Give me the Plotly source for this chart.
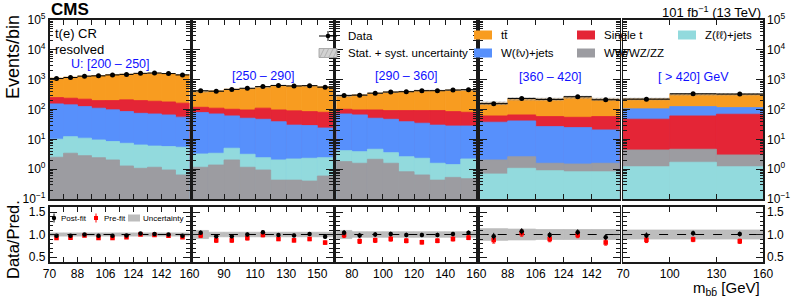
import numpy as np
import plotly.graph_objects as go

W, H = 793, 300
FONT = "Liberation Sans, Arial, Helvetica, sans-serif"

# ---------------- data ----------------
bin_edges_p1 = [70, 79, 88, 97, 106, 115, 124, 133, 142, 151, 160]
bin_edges_p2 = [70, 80, 90, 100, 110, 120, 130, 140, 150, 160]
bin_edges_p3 = [70, 80, 90, 100, 110, 120, 130, 140, 150, 160]
bin_edges_p4 = [70, 88, 106, 124, 142, 160]
bin_edges_p5 = [70, 100, 130, 160]

category_labels = ["U: [200 – 250]", "[250 – 290]", "[290 – 360]", "[360 – 420]", "[ > 420] GeV"]

x_tick_labels_p1 = [70, 88, 106, 124, 142, 160]
x_tick_labels_p2 = [90, 110, 130, 150]
x_tick_labels_p3 = [80, 100, 120, 140, 160]
x_tick_labels_p4 = [88, 106, 124, 142]
x_tick_labels_p5 = [70, 100, 130, 160]

# background yields (events/bin)
ttbar_p1 = [871, 974, 1088, 1174, 1284, 1320, 1404, 1462, 1423, 1320]
singlet_p1 = [97, 96, 97, 88, 102, 125, 124, 119, 114, 108]
wjets_p1 = [144, 131, 114, 101, 89, 78, 68, 65, 60, 50]
zjets_p1 = [7.6, 8.9, 8.1, 7.1, 6.4, 6.1, 5.4, 4.8, 4.8, 4.8]
vv_p1 = [2.51, 3.42, 2.84, 2.43, 2.04, 1.28, 1.07, 1.16, 0.94, 0.64]

ttbar_p2 = [292, 310, 378, 406, 449, 537, 529, 534, 505]
singlet_p2 = [40, 40, 41, 46, 64, 58, 60, 56, 57]
wjets_p2 = [75.5, 67.6, 56, 47.8, 44.6, 37, 27.8, 26.7, 21.6]
zjets_p2 = [2.08, 2.04, 3.0, 2.0, 1.49, 1.61, 1.77, 1.92, 1.84]
vv_p2 = [1.16, 1.38, 2.04, 1.16, 0.94, 0.43, 0.43, 0.40, 0.59]

ttbar_p3 = [184, 212, 255, 289, 307, 339, 339, 360, 364]
singlet_p3 = [31, 31, 46, 45, 53, 57, 62, 57, 53]
wjets_p3 = [66.8, 62.1, 46.3, 43.4, 36.4, 32.4, 28.4, 26.6, 25.8]
zjets_p3 = [2.39, 2.29, 2.51, 2.0, 1.8, 1.68, 1.15, 0.89, 1.72]
vv_p3 = [1.79, 1.58, 2.15, 1.58, 0.82, 0.64, 0.43, 0.53, 0.48]

ttbar_p4 = [102, 161, 164, 204, 164]
singlet_p4 = [23.5, 24.6, 31.3, 30.3, 37.3]
wjets_p4 = [35.5, 38.8, 25.1, 23.2, 19.1]
zjets_p4 = [0.69, 1.07, 0.89, 0.82, 0.82]
vv_p4 = [1.35, 1.55, 0.69, 0.67, 0.76]

ttbar_p5 = [122, 201, 210]
singlet_p5 = [42.9, 56.3, 66.5]
wjets_p5 = [57.7, 64, 46.5]
zjets_p5 = [1.21, 1.71, 1.21]
vv_p5 = [3.2, 2.95, 1.79]

# observed data
data_p1 = [1090, 1180, 1310, 1340, 1440, 1500, 1630, 1670, 1600, 1440]
data_p2 = [425, 410, 470, 515, 585, 640, 615, 630, 560]
data_p3 = [297, 303, 352, 385, 395, 427, 427, 449, 463]
data_p4 = [157, 235, 218, 268, 212]
data_p5 = [222, 336, 329]

# data / prediction ratios
postfit_p1 = [0.97, 0.97, 1.00, 0.97, 0.97, 0.98, 1.02, 1.01, 1.00, 0.97]
prefit_p1 = [0.92, 0.93, 0.98, 0.92, 0.92, 0.94, 1.00, 0.99, 0.97, 0.94]
postfit_p2 = [1.04, 0.96, 0.96, 1.00, 1.05, 0.99, 0.98, 1.01, 0.95]
prefit_p2 = [0.98, 0.87, 0.87, 0.92, 0.99, 0.90, 0.87, 0.90, 0.82]
postfit_p3 = [1.04, 0.98, 1.00, 1.01, 0.99, 0.99, 0.99, 1.01, 1.04]
prefit_p3 = [0.99, 0.85, 0.87, 0.90, 0.86, 0.83, 0.86, 0.90, 0.93]
postfit_p4 = [0.96, 1.07, 0.99, 1.05, 0.94]
prefit_p4 = [0.88, 1.03, 0.90, 0.99, 0.82]
postfit_p5 = [0.98, 1.03, 1.01]
prefit_p5 = [0.88, 0.89, 0.85]

# relative stat.+syst. uncertainty
unc_p1 = [0.035, 0.035, 0.035, 0.035, 0.035, 0.035, 0.035, 0.035, 0.035, 0.035]
unc_p2 = [0.09, 0.05, 0.05, 0.05, 0.05, 0.05, 0.05, 0.05, 0.05]
unc_p3 = [0.09, 0.06, 0.06, 0.06, 0.06, 0.06, 0.06, 0.06, 0.06]
unc_p4 = [0.13, 0.12, 0.11, 0.11, 0.11]
unc_p5 = [0.10, 0.10, 0.10]

# ---------------- styling ----------------
procs = ["ttbar", "singlet", "wjets", "zjets", "vv"]
colors = {"ttbar": "#f89c20", "singlet": "#e42536", "wjets": "#5790fc",
          "zjets": "#92dadd", "vv": "#9c9ca1"}

panels = [
    dict(edges=bin_edges_p1, ttbar=ttbar_p1, singlet=singlet_p1, wjets=wjets_p1, zjets=zjets_p1, vv=vv_p1,
         data=data_p1, post=postfit_p1, pre=prefit_p1, unc=unc_p1, xlab=x_tick_labels_p1),
    dict(edges=bin_edges_p2, ttbar=ttbar_p2, singlet=singlet_p2, wjets=wjets_p2, zjets=zjets_p2, vv=vv_p2,
         data=data_p2, post=postfit_p2, pre=prefit_p2, unc=unc_p2, xlab=x_tick_labels_p2),
    dict(edges=bin_edges_p3, ttbar=ttbar_p3, singlet=singlet_p3, wjets=wjets_p3, zjets=zjets_p3, vv=vv_p3,
         data=data_p3, post=postfit_p3, pre=prefit_p3, unc=unc_p3, xlab=x_tick_labels_p3),
    dict(edges=bin_edges_p4, ttbar=ttbar_p4, singlet=singlet_p4, wjets=wjets_p4, zjets=zjets_p4, vv=vv_p4,
         data=data_p4, post=postfit_p4, pre=prefit_p4, unc=unc_p4, xlab=x_tick_labels_p4),
    dict(edges=bin_edges_p5, ttbar=ttbar_p5, singlet=singlet_p5, wjets=wjets_p5, zjets=zjets_p5, vv=vv_p5,
         data=data_p5, post=postfit_p5, pre=prefit_p5, unc=unc_p5, xlab=x_tick_labels_p5),
]

def X(px):
    return px / W

def Y(py):
    return 1 - py / H

x_pix = [(49.5, 189.5), (192.9, 332.9), (336.3, 476.3), (479.7, 619.7), (623.1, 763.1)]
top_dom = [Y(199), Y(20)]
rat_dom = [Y(262), Y(207)]

def ax(n, kind):
    return (kind if n == 1 else f"{kind}{n}")

fig = go.Figure()
layout = dict(width=W, height=H, margin=dict(l=0, r=0, t=0, b=0, autoexpand=False),
              paper_bgcolor="white", plot_bgcolor="white", barmode="overlay",
              showlegend=False, font=dict(family=FONT, color="black", size=12))

log_vals = [0.1, 1, 10, 100, 1e3, 1e4, 1e5]
log_text = ["10<sup>−1</sup>", "10<sup>0</sup>", "10<sup>1</sup>", "10<sup>2</sup>",
            "10<sup>3</sup>", "10<sup>4</sup>", "10<sup>5</sup>"]
log_minor = [k * 10.0 ** e for e in range(-1, 5) for k in range(2, 10)]

frame = dict(showline=True, linecolor="#1a1a1a", linewidth=1.6, mirror="ticks", automargin=False,
             ticks="inside", tickcolor="#1a1a1a", tickwidth=1, showgrid=False, zeroline=False)

for i, p in enumerate(panels):
    nt, nr = i + 1, i + 6
    e = np.array(p["edges"], dtype=float)
    c = 0.5 * (e[1:] + e[:-1])
    w = e[1:] - e[:-1]
    order = sorted(procs, key=lambda q: float(np.sum(p[q])))
    cum = np.cumsum([np.array(p[q], dtype=float) for q in order], axis=0)
    for k in reversed(range(len(order))):
        col = colors[order[k]]
        fig.add_trace(go.Bar(x=c, y=cum[k], width=w, marker=dict(color=col, line=dict(color=col, width=0.8)),
                             xaxis=ax(nt, "x"), yaxis=ax(nt, "y")))
    total = cum[-1]
    u = np.array(p["unc"])
    fig.add_trace(go.Bar(x=c, y=2 * total * u, base=total * (1 - u), width=w,
                         marker=dict(color="rgba(170,170,170,0.45)", line_width=0,
                                     pattern=dict(shape="/", fgcolor="#666", size=3, solidity=0.3)),
                         xaxis=ax(nt, "x"), yaxis=ax(nt, "y")))
    d = np.array(p["data"], dtype=float)
    fig.add_trace(go.Scatter(x=c, y=d, mode="markers",
                             marker=dict(color="black", size=5, symbol="circle"),
                             error_x=dict(type="data", array=w / 2, width=0, thickness=1, color="black"),
                             error_y=dict(type="data", array=np.sqrt(d), width=0, thickness=1, color="black"),
                             xaxis=ax(nt, "x"), yaxis=ax(nt, "y")))

    # ratio panel
    fig.add_trace(go.Bar(x=c, y=2 * u, base=1 - u, width=w,
                         marker=dict(color="#bdbdbd", line=dict(color="#bdbdbd", width=0.8)),
                         xaxis=ax(nr, "x"), yaxis=ax(nr, "y")))
    fig.add_trace(go.Scatter(x=[e[0], e[-1]], y=[1, 1], mode="lines",
                             line=dict(color="black", width=1, dash="dash"),
                             xaxis=ax(nr, "x"), yaxis=ax(nr, "y")))
    post = np.array(p["post"])
    pre = np.array(p["pre"])
    fig.add_trace(go.Scatter(x=c, y=pre, mode="markers",
                             marker=dict(color="#ff0000", size=4.5, symbol="square"),
                             error_y=dict(type="data", array=pre / np.sqrt(d), width=1.5, thickness=1, color="#ff0000"),
                             xaxis=ax(nr, "x"), yaxis=ax(nr, "y")))
    fig.add_trace(go.Scatter(x=c, y=post, mode="markers",
                             marker=dict(color="black", size=4.5, symbol="circle"),
                             error_y=dict(type="data", array=post / np.sqrt(d), width=0, thickness=1, color="black"),
                             xaxis=ax(nr, "x"), yaxis=ax(nr, "y")))

    xdom = [X(x_pix[i][0]), X(x_pix[i][1])]
    labelled = [v for v in e if int(v) in p["xlab"]]
    unlabelled = [v for v in e if int(v) not in p["xlab"]]
    layout[ax(nt, "xaxis")] = dict(domain=xdom, anchor=ax(nt, "y"), range=[70, 160],
                                   tickmode="array", tickvals=list(e), showticklabels=False,
                                   ticklen=5, **frame)
    layout[ax(nr, "xaxis")] = dict(domain=xdom, anchor=ax(nr, "y"), range=[70, 160],
                                   tickmode="array", tickvals=labelled,
                                   ticktext=[str(int(v)) for v in labelled],
                                   showticklabels=True, ticklen=5,
                                   minor=dict(tickmode="array", tickvals=unlabelled, ticks="inside",
                                              ticklen=5, tickcolor="#1a1a1a"),
                                   tickfont=dict(size=12, family=FONT), **frame)
    ylog = dict(domain=top_dom, anchor=ax(nt, "x"), type="log", range=[-1, 5],
                tickmode="array", tickvals=log_vals, ticktext=log_text, ticklen=7,
                minor=dict(tickmode="array", tickvals=log_minor, ticks="inside", ticklen=3.5,
                           tickcolor="#1a1a1a"),
                tickfont=dict(size=12, family=FONT), **frame)
    yrat = dict(domain=rat_dom, anchor=ax(nr, "x"), range=[0.389, 1.611],
                tickmode="array", tickvals=[0.5, 1.0, 1.5], ticktext=["0.5", "1.0", "1.5"],
                ticklen=7,
                minor=dict(tickmode="array", tickvals=[0.4, 0.6, 0.7, 0.8, 0.9, 1.1, 1.2, 1.3, 1.4, 1.6],
                           ticks="inside", ticklen=3.5, tickcolor="#1a1a1a"),
                tickfont=dict(size=12, family=FONT), **frame)
    if i == 0:
        ylog["showticklabels"] = True
        yrat["showticklabels"] = True
    elif i == 4:
        ylog["side"] = "right"
        yrat["side"] = "right"
        ylog["showticklabels"] = True
        yrat["showticklabels"] = True
    else:
        ylog["showticklabels"] = False
        yrat["showticklabels"] = False
    layout[ax(nt, "yaxis")] = ylog
    layout[ax(nr, "yaxis")] = yrat

fig.update_layout(**layout)

# ---------------- text ----------------
ann = []
def text(x, y, s, size=12, xanchor="left", yanchor="middle", color="black", angle=0, bold=False):
    ann.append(dict(x=X(x), y=Y(y), xref="paper", yref="paper", text=(f"<b>{s}</b>" if bold else s),
                    showarrow=False, xanchor=xanchor, yanchor=yanchor, textangle=angle,
                    font=dict(size=size, family=FONT, color=color)))

text(49, 10, "CMS", size=17, bold=True)
text(763, 12, "101 fb<sup>−1</sup> (13 TeV)", size=13, xanchor="right")
text(53, 34, "t(e) CR", size=13)
text(53, 49.5, "resolved", size=13)
text(13, 57, "Events/bin", size=18, xanchor="center", angle=-90)
text(13, 240, "Data/Pred.", size=16.5, xanchor="center", angle=-90)
text(762, 288.5, "m<sub>bb̄</sub> [GeV]", size=15, xanchor="right")

label_y = [64, 76, 76, 77, 77]
label_x = [110, 263, 406, 550, 693]
for lx, ly, s in zip(label_x, label_y, category_labels):
    text(lx, ly, s, size=12.5, xanchor="center", color="#1010ff")

# top legend
shapes = []
def rect(x0, y0, x1, y1, fill, line="rgba(0,0,0,0)", lw=0):
    shapes.append(dict(type="rect", xref="paper", yref="paper", x0=X(x0), x1=X(x1), y0=Y(y1), y1=Y(y0),
                       fillcolor=fill, line=dict(color=line, width=lw)))

def seg(x0, y0, x1, y1, color="black", lw=1):
    shapes.append(dict(type="line", xref="paper", yref="paper", x0=X(x0), x1=X(x1), y0=Y(y0), y1=Y(y1),
                       line=dict(color=color, width=lw)))

def dot(xc, yc, r, color):
    shapes.append(dict(type="circle", xref="paper", yref="paper", x0=X(xc - r), x1=X(xc + r),
                       y0=Y(yc + r), y1=Y(yc - r), fillcolor=color, line=dict(color=color, width=0)))

# Data
seg(319, 36, 337, 36)
seg(328, 31, 328, 41)
dot(328, 36, 2.3, "black")
text(346, 36, "Data", size=11.5)
# Stat + syst
rect(319, 48.5, 337, 57.5, "#d2d2d2", "#9a9a9a", 0.8)
for k in range(4):
    seg(320 + 4.5 * k, 57, 324 + 4.5 * k, 49, color="#9a9a9a", lw=0.6)
text(346, 53, "Stat. + syst. uncertainty", size=11.5)

leg = [(474, 35, "ttbar", "tt̄"), (577, 35, "singlet", "Single t"), (678, 35, "zjets", "Z(ℓℓ)+jets"),
       (474, 53, "wjets", "W(ℓν)+jets"), (577, 53, "vv", "WW/WZ/ZZ")]
for lx, ly, key, lab in leg:
    rect(lx, ly - 4.5, lx + 18, ly + 4.5, colors[key])
    text(lx + 25, ly, lab, size=11.5)

# ratio legend
seg(54, 213.5, 54, 222.5)
dot(54, 218, 2.2, "black")
text(59, 218, "Post-fit", size=8)
seg(96, 213.5, 96, 222.5, color="#ff0000")
rect(94, 216, 98, 220, "#ff0000")
text(102, 218, "Pre-fit", size=8)
rect(128, 214.5, 140, 221.5, "#bdbdbd")
text(141, 218, "Uncertainty", size=8)

fig.update_layout(annotations=ann, shapes=shapes)
fig.write_html("out.html", config={"displayModeBar": False, "staticPlot": True},
               post_script="document.body.style.margin='0';document.body.style.padding='0';")
